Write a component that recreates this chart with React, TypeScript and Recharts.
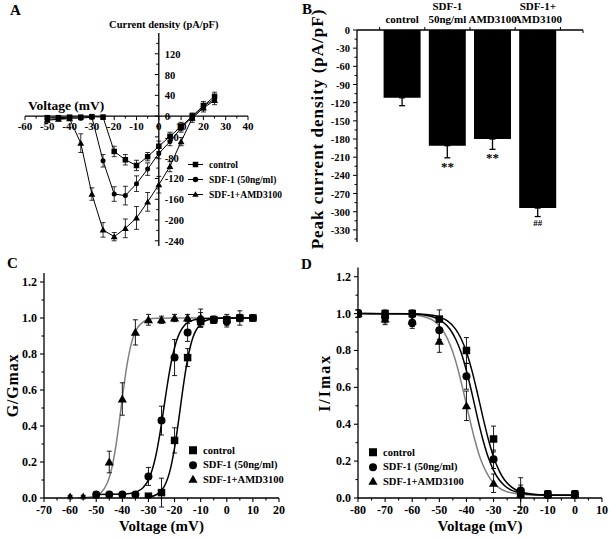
import React from "react";
import {
  ComposedChart,
  BarChart,
  Bar,
  Line,
  XAxis,
  YAxis,
  ErrorBar,
  ReferenceLine,
  ReferenceDot,
  Legend,
} from "recharts";

const FONT = "'Liberation Serif', 'Times New Roman', serif";

// ---------- Panel A: current density vs voltage ----------
const voltA = [-50, -45, -40, -35, -30, -25, -20, -15, -10, -5, 0, 5, 10, 15, 20, 25];
const ctrlA = [-3, -3, -2, -2, -1, -2, -68, -84, -95, -78, -58, -39, -20, 0, 20, 38];
const ctrlAErr = [3, 3, 3, 3, 3, 4, 10, 10, 10, 8, 10, 8, 8, 6, 8, 8];
const sdfA = [-6, -5, -4, -4, -2, -86, -150, -153, -130, -102, -72, -49, -23, -2, 19, 33];
const sdfAErr = [3, 3, 3, 3, 3, 12, 14, 18, 15, 12, 10, 8, 8, 6, 6, 6];
const amdA = [-8, -6, -5, -52, -150, -219, -232, -216, -196, -165, -132, -97, -49, -4, 16, 30];
const amdAErr = [3, 3, 3, 18, 12, 14, 8, 18, 22, 18, 16, 10, 8, 8, 8, 8];
const xTicksA = [-60, -55, -50, -45, -40, -35, -30, -25, -20, -15, -10, -5, 0, 5, 10, 15, 20, 25, 30, 35, 40];
const yTicksA = [-240, -220, -200, -180, -160, -140, -120, -100, -80, -60, -40, -20, 0, 20, 40, 60, 80, 100, 120, 140];

// ---------- Panel B: peak current density ----------
const catB = [["control"], ["SDF-1", "50ng/ml"], ["AMD3100"], ["SDF-1+", "AMD3100"]];
const posB = [1, 2, 3, 4];
const peakB = [-112, -191, -180, -294];
const peakBErr = [13, 20, 17, 14];
const sigB = ["", "**", "**", "##"];
const xTicksB = [0.5, 1, 1.5, 2, 2.5, 3, 3.5, 4, 4.5, 5];
const yTicksB = [0, -15, -30, -45, -60, -75, -90, -105, -120, -135, -150, -165, -180, -195, -210, -225, -240, -255, -270, -285, -300, -315, -330, -345];

// ---------- Panel C: activation G/Gmax ----------
const ctrlCV = [-30, -25, -20, -15, -10, -5, 0, 5, 10];
const ctrlC = [0.01, 0.03, 0.32, 0.78, 0.98, 0.99, 0.99, 1.0, 1.0];
const ctrlCErr = [0.01, 0.08, 0.07, 0.05, 0.03, 0.02, 0.03, 0.04, 0.01];
const sdfCV = [-50, -45, -40, -35, -30, -25, -20, -15, -10, -5, 0, 5, 10];
const sdfC = [0.02, 0.02, 0.02, 0.02, 0.12, 0.43, 0.78, 0.92, 0.99, 0.99, 0.98, 1.0, 1.0];
const sdfCErr = [0.01, 0.01, 0.01, 0.01, 0.05, 0.08, 0.1, 0.05, 0.04, 0.02, 0.03, 0.02, 0.01];
const amdCV = [-60, -55, -50, -45, -40, -35, -30, -25, -20, -15, -10];
const amdC = [0.005, 0.005, 0.01, 0.2, 0.55, 0.92, 0.99, 0.99, 1.0, 1.0, 1.0];
const amdCErr = [0.01, 0.01, 0.01, 0.06, 0.09, 0.07, 0.03, 0.02, 0.02, 0.02, 0.05];
// fitted curves
const fitCtrlCV = [-30, -27, -25, -24, -23, -22, -21, -20, -19, -18, -17, -16, -15, -14, -13, -12, -10, -8, -5, 0, 10];
const fitCtrlC = [0.005, 0.018, 0.042, 0.063, 0.094, 0.138, 0.199, 0.278, 0.373, 0.478, 0.586, 0.686, 0.772, 0.839, 0.89, 0.926, 0.967, 0.986, 0.996, 1.0, 1.0];
const fitSdfCV = [-50, -40, -36, -34, -32, -30, -29, -28, -27, -26, -25, -24, -23, -22, -21, -20, -19, -18, -16, -14, -12, -10, 0, 10];
const fitSdfC = [0.02, 0.022, 0.028, 0.038, 0.058, 0.101, 0.137, 0.185, 0.246, 0.324, 0.413, 0.51, 0.607, 0.696, 0.774, 0.835, 0.883, 0.919, 0.962, 0.982, 0.992, 0.997, 1.0, 1.0];
const fitAmdCV = [-57, -52, -50, -48, -46, -45, -44, -43, -42, -41, -40, -39, -38, -37, -36, -35, -34, -32, -30, -27, -10];
const fitAmdC = [0.0, 0.005, 0.013, 0.032, 0.076, 0.114, 0.169, 0.243, 0.336, 0.443, 0.557, 0.664, 0.757, 0.831, 0.886, 0.924, 0.95, 0.979, 0.992, 0.998, 1.0];
const xTicksC = [-70, -65, -60, -55, -50, -45, -40, -35, -30, -25, -20, -15, -10, -5, 0, 5, 10, 15, 20];

// ---------- Panel D: inactivation I/Imax ----------
const voltD = [-80, -70, -60, -50, -40, -30, -20, -10, 0];
const ctrlD = [1.0, 1.0, 1.0, 0.97, 0.8, 0.32, 0.03, 0.02, 0.02];
const ctrlDErr = [0.02, 0.02, 0.02, 0.05, 0.07, 0.07, 0.08, 0.02, 0.02];
const sdfD = [1.0, 0.98, 0.95, 0.91, 0.66, 0.21, 0.04, 0.02, 0.02];
const sdfDErr = [0.02, 0.03, 0.03, 0.05, 0.07, 0.05, 0.03, 0.02, 0.02];
const amdD = [1.0, 0.97, 0.96, 0.85, 0.5, 0.08, 0.02, 0.02, 0.02];
const amdDErr = [0.02, 0.03, 0.03, 0.06, 0.08, 0.05, 0.02, 0.02, 0.02];
const fitCtrlDV = [-80, -60, -55, -50, -47, -44, -42, -40, -38, -36, -34, -32, -30, -28, -26, -24, -22, -20, -16, -10, 0];
const fitCtrlD = [1.0, 0.999, 0.995, 0.981, 0.96, 0.916, 0.865, 0.792, 0.692, 0.572, 0.443, 0.323, 0.223, 0.15, 0.099, 0.067, 0.046, 0.034, 0.022, 0.016, 0.015];
const fitSdfDV = [-80, -62, -57, -52, -49, -46, -44, -42, -40, -38, -36, -34, -32, -30, -28, -26, -24, -22, -18, -12, 0];
const fitSdfD = [1.0, 0.999, 0.995, 0.98, 0.958, 0.914, 0.862, 0.79, 0.69, 0.57, 0.44, 0.32, 0.222, 0.15, 0.1, 0.068, 0.047, 0.035, 0.022, 0.016, 0.015];
const fitAmdDV = [-80, -65, -60, -55, -52, -49, -47, -45, -43, -41, -39, -37, -35, -33, -31, -29, -27, -25, -21, -15, 0];
const fitAmdD = [1.0, 0.999, 0.995, 0.98, 0.96, 0.915, 0.864, 0.79, 0.69, 0.57, 0.44, 0.32, 0.22, 0.15, 0.1, 0.067, 0.046, 0.034, 0.022, 0.016, 0.015];
const xTicksD = [-80, -75, -70, -65, -60, -55, -50, -45, -40, -35, -30, -25, -20, -15, -10, -5, 0, 5, 10];
const yTicksCD = [0, 0.1, 0.2, 0.3, 0.4, 0.5, 0.6, 0.7, 0.8, 0.9, 1.0, 1.1, 1.2];

const names = ["control", "SDF-1 (50ng/ml)", "SDF-1+AMD3100"];
const kinds = ["square", "circle", "triangle"];

const rows = (vs: number[], ys: number[], es?: number[]) =>
  vs.map((v, i) => ({ v, y: ys[i], e: es ? es[i] : 0 }));

const txt = (size: number) => ({ fontFamily: FONT, fontWeight: "bold" as const, fontSize: size, fill: "#000" });

const Marker = ({ cx, cy, kind, size }: any) => {
  if (cx == null || cy == null || isNaN(cx) || isNaN(cy)) return null;
  const h = size / 2;
  if (kind === "square") return <rect x={cx - h} y={cy - h} width={size} height={size} fill="#000" />;
  if (kind === "circle") return <circle cx={cx} cy={cy} r={h} fill="#000" />;
  const t = h * 1.15;
  return <polygon points={`${cx},${cy - t} ${cx - t},${cy + t * 0.75} ${cx + t},${cy + t * 0.75}`} fill="#000" />;
};

const LegendList = ({ size, rowH, font, lineW, gap }: any) => (
  <div style={{ fontFamily: FONT, fontWeight: "bold", fontSize: font, color: "#000" }}>
    {names.map((n, i) => (
      <div key={n} style={{ display: "flex", alignItems: "center", height: rowH, whiteSpace: "nowrap" }}>
        <svg width={lineW} height={rowH} style={{ display: "block" }}>
          {lineW > size + 2 && (
            <line x1={0} x2={lineW} y1={rowH / 2} y2={rowH / 2} stroke="#000" strokeWidth={1} />
          )}
          <Marker cx={lineW / 2} cy={rowH / 2} kind={kinds[i]} size={size} />
        </svg>
        <span style={{ marginLeft: gap }}>{n}</span>
      </div>
    ))}
  </div>
);

// ---------- Panel A ----------
function PanelA() {
  const series = [
    { data: rows(voltA, ctrlA, ctrlAErr), kind: "square", size: 5.5 },
    { data: rows(voltA, sdfA, sdfAErr), kind: "circle", size: 5 },
    { data: rows(voltA, amdA, amdAErr), kind: "triangle", size: 6 },
  ];
  return (
    <ComposedChart width={300} height={250} margin={{ top: 33, right: 52, bottom: 4, left: 25 }}>
      <XAxis type="number" dataKey="v" domain={[-60, 40]} hide allowDataOverflow />
      <YAxis type="number" domain={[-250, 160]} hide allowDataOverflow />
      <ReferenceLine y={0} stroke="#000" strokeWidth={1.3} />
      <ReferenceLine x={0} stroke="#000" strokeWidth={1.3} />
      {xTicksA.map((t) => (
        <ReferenceDot
          key={"xa" + t}
          x={t}
          y={0}
          r={0}
          ifOverflow="visible"
          shape={(p: any) => (
            <g>
              <line x1={p.cx} x2={p.cx} y1={p.cy} y2={p.cy + (t % 10 === 0 ? 4 : 2.5)} stroke="#000" strokeWidth={1} />
              {t % 10 === 0 && (
                <text x={p.cx} y={p.cy + 14} textAnchor="middle" {...txt(11)}>
                  {t}
                </text>
              )}
            </g>
          )}
        />
      ))}
      {yTicksA.map((t) => (
        <ReferenceDot
          key={"ya" + t}
          x={0}
          y={t}
          r={0}
          ifOverflow="visible"
          shape={(p: any) => (
            <g>
              <line x1={p.cx - (t % 40 === 0 ? 4 : 2.5)} x2={p.cx} y1={p.cy} y2={p.cy} stroke="#000" strokeWidth={1} />
              {t % 40 === 0 && (
                <text x={p.cx + 6} y={p.cy + 4} textAnchor="start" {...txt(10.5)}>
                  {t}
                </text>
              )}
            </g>
          )}
        />
      ))}
      <ReferenceDot
        x={0}
        y={160}
        r={0}
        ifOverflow="visible"
        shape={(p: any) => (
          <text x={p.cx + 5} y={p.cy - 5} textAnchor="middle" {...txt(10.5)}>
            Current density (pA/pF)
          </text>
        )}
      />
      <ReferenceDot
        x={-60}
        y={0}
        r={0}
        ifOverflow="visible"
        shape={(p: any) => (
          <text x={p.cx + 3} y={p.cy - 6} textAnchor="start" {...txt(13.5)}>
            Voltage (mV)
          </text>
        )}
      />
      {series.map((s, k) => (
        <Line
          key={"la" + k}
          data={s.data}
          dataKey="y"
          type="linear"
          stroke="#000"
          strokeWidth={1}
          isAnimationActive={false}
          dot={(p: any) => <Marker key={"da" + k + "-" + p.index} cx={p.cx} cy={p.cy} kind={s.kind} size={s.size} />}
          activeDot={false}
        >
          <ErrorBar dataKey="e" width={2.5} stroke="#000" strokeWidth={0.8} direction="y" />
        </Line>
      ))}
      <Legend
        layout="vertical"
        align="center"
        verticalAlign="middle"
        wrapperStyle={{ left: 188, top: 157 }}
        content={() => <LegendList size={5.5} rowH={15} font={9.5} lineW={15} gap={6} />}
      />
    </ComposedChart>
  );
}

// ---------- Panel B ----------
function PanelB() {
  const data = posB.map((p, i) => ({ pos: p, val: peakB[i], err: [peakBErr[i], 0] }));
  const TopTick = ({ x, y, payload }: any) => {
    const v = payload.value;
    if (Number.isInteger(v) && v >= 1 && v <= 4) {
      const lines = catB[v - 1];
      return (
        <g>
          {lines.map((ln, i) => (
            <text key={i} x={x} y={y - 7 - (lines.length - 1 - i) * 13} textAnchor="middle" {...txt(11)}>
              {ln}
            </text>
          ))}
        </g>
      );
    }
    return <line x1={x} x2={x} y1={y} y2={v === 5 ? y + 3 : y - 3} stroke="#000" strokeWidth={1} />;
  };
  const LeftTick = ({ x, y, payload }: any) => {
    const v = payload.value;
    const major = v % 30 === 0;
    return (
      <g>
        <line x1={x - (major ? 4 : 2.5)} x2={x} y1={y} y2={y} stroke="#000" strokeWidth={1} />
        {major && (
          <text x={x - 7} y={y + 4} textAnchor="end" {...txt(10.5)}>
            {v}
          </text>
        )}
      </g>
    );
  };
  return (
    <BarChart width={310} height={250} data={data} margin={{ top: 0, right: 27, bottom: 8, left: 0 }}>
      <XAxis
        type="number"
        dataKey="pos"
        orientation="top"
        domain={[0, 5]}
        ticks={xTicksB}
        interval={0}
        height={30}
        tickSize={0}
        tickMargin={0}
        tickLine={false}
        axisLine={{ stroke: "#000", strokeWidth: 1.3 }}
        tick={<TopTick />}
        allowDataOverflow
      />
      <YAxis
        type="number"
        domain={[-350, 0]}
        ticks={yTicksB}
        interval={0}
        width={57}
        tickSize={0}
        tickMargin={0}
        tickLine={false}
        axisLine={{ stroke: "#000", strokeWidth: 1.3 }}
        tick={<LeftTick />}
        allowDataOverflow
        label={() => {
          const cx = 17;
          const cy = 129;
          return (
            <text
              x={cx}
              y={cy}
              transform={`rotate(-90 ${cx} ${cy})`}
              textAnchor="middle"
              dominantBaseline="central"
              letterSpacing={1}
              {...txt(17)}
            >
              Peak current density (pA/pF)
            </text>
          );
        }}
      />
      <Bar dataKey="val" barSize={37} fill="#000" isAnimationActive={false}>
        <ErrorBar dataKey="err" width={3} stroke="#000" strokeWidth={1.3} direction="y" />
      </Bar>
      {posB.map((p, i) =>
        sigB[i] ? (
          <ReferenceDot
            key={"sig" + i}
            x={p}
            y={peakB[i] - peakBErr[i]}
            r={0}
            ifOverflow="visible"
            shape={(q: any) => (
              <text x={q.cx} y={q.cy + (sigB[i] === "##" ? 9 : 13)} textAnchor="middle" {...txt(sigB[i] === "##" ? 9 : 13)}>
                {sigB[i]}
              </text>
            )}
          />
        ) : null
      )}
    </BarChart>
  );
}

// ---------- shared for C & D ----------
const BottomTick = ({ x, y, payload }: any) => {
  const v = payload.value;
  const major = v % 10 === 0;
  return (
    <g>
      <line x1={x} x2={x} y1={y} y2={y + (major ? 4 : 2.5)} stroke="#000" strokeWidth={1.1} />
      {major && (
        <text x={x} y={y + 16} textAnchor="middle" {...txt(12)}>
          {v}
        </text>
      )}
    </g>
  );
};

const LeftTickCD = ({ x, y, payload }: any) => {
  const v = payload.value;
  const major = Math.round(v * 10) % 2 === 0;
  return (
    <g>
      <line x1={x - (major ? 4 : 2.5)} x2={x} y1={y} y2={y} stroke="#000" strokeWidth={1.1} />
      {major && (
        <text x={x - 7} y={y + 4} textAnchor="end" {...txt(12)}>
          {v.toFixed(1)}
        </text>
      )}
    </g>
  );
};

function SigmoidPanel({ width, margin, yWidth, xDomain, xTicks, yTitle, yTitleX, yTitleSpacing, points, fits, legendPos }: any) {
  return (
    <ComposedChart width={width} height={289} margin={margin}>
      <XAxis
        type="number"
        dataKey="v"
        domain={xDomain}
        ticks={xTicks}
        interval={0}
        height={41}
        tickSize={0}
        tickMargin={0}
        tickLine={false}
        axisLine={{ stroke: "#000", strokeWidth: 1.3 }}
        tick={<BottomTick />}
        allowDataOverflow
        label={(p: any) => {
          const vb = p.viewBox || {};
          return (
            <text x={vb.x + vb.width / 2} y={vb.y + 33} textAnchor="middle" {...txt(15)}>
              Voltage (mV)
            </text>
          );
        }}
      />
      <YAxis
        type="number"
        domain={[0, 1.25]}
        ticks={yTicksCD}
        interval={0}
        width={yWidth}
        tickSize={0}
        tickMargin={0}
        tickLine={false}
        axisLine={{ stroke: "#000", strokeWidth: 1.3 }}
        tick={<LeftTickCD />}
        allowDataOverflow
        label={(p: any) => {
          const vb = p.viewBox || {};
          const cy = vb.y + vb.height / 2;
          return (
            <text
              x={yTitleX}
              y={cy}
              transform={`rotate(-90 ${yTitleX} ${cy})`}
              textAnchor="middle"
              dominantBaseline="central"
              letterSpacing={yTitleSpacing}
              {...txt(16)}
            >
              {yTitle}
            </text>
          );
        }}
      />
      {fits.map((f: any, k: number) => (
        <Line
          key={"fit" + k}
          data={f.data}
          dataKey="y"
          type="monotone"
          stroke={f.color}
          strokeWidth={1.5}
          dot={false}
          activeDot={false}
          isAnimationActive={false}
        />
      ))}
      {points.map((s: any, k: number) => (
        <Line
          key={"pt" + k}
          data={s.data}
          dataKey="y"
          stroke="none"
          isAnimationActive={false}
          activeDot={false}
          dot={(p: any) => <Marker key={"d" + k + "-" + p.index} cx={p.cx} cy={p.cy} kind={s.kind} size={s.size} />}
        >
          <ErrorBar dataKey="e" width={2.5} stroke="#000" strokeWidth={0.9} direction="y" />
        </Line>
      ))}
      <Legend
        layout="vertical"
        align="center"
        verticalAlign="middle"
        wrapperStyle={{ left: legendPos[0], top: legendPos[1] }}
        content={() => <LegendList size={8} rowH={14.5} font={10.5} lineW={10} gap={5} />}
      />
    </ComposedChart>
  );
}

function PanelC() {
  return (
    <SigmoidPanel
      width={300}
      margin={{ top: 23, right: 21, bottom: 0, left: 0 }}
      yWidth={44}
      xDomain={[-70, 20]}
      xTicks={xTicksC}
      yTitle="G/Gmax"
      yTitleX={12}
      yTitleSpacing={0.8}
      legendPos={[188, 193]}
      fits={[
        { data: rows(fitAmdCV, fitAmdC), color: "#808080" },
        { data: rows(fitSdfCV, fitSdfC), color: "#000" },
        { data: rows(fitCtrlCV, fitCtrlC), color: "#000" },
      ]}
      points={[
        { data: rows(ctrlCV, ctrlC, ctrlCErr), kind: "square", size: 7.5 },
        { data: rows(sdfCV, sdfC, sdfCErr), kind: "circle", size: 8 },
        { data: rows(amdCV, amdC, amdCErr), kind: "triangle", size: 8 },
      ]}
    />
  );
}

function PanelD() {
  return (
    <SigmoidPanel
      width={310}
      margin={{ top: 17.5, right: 8, bottom: 0, left: 0 }}
      yWidth={58}
      xDomain={[-80, 10]}
      xTicks={xTicksD}
      yTitle="I/Imax"
      yTitleX={24}
      yTitleSpacing={2}
      legendPos={[68, 195]}
      fits={[
        { data: rows(fitAmdDV, fitAmdD), color: "#808080" },
        { data: rows(fitSdfDV, fitSdfD), color: "#000" },
        { data: rows(fitCtrlDV, fitCtrlD), color: "#000" },
      ]}
      points={[
        { data: rows(voltD, ctrlD, ctrlDErr), kind: "square", size: 7.5 },
        { data: rows(voltD, sdfD, sdfDErr), kind: "circle", size: 8 },
        { data: rows(voltD, amdD, amdDErr), kind: "triangle", size: 8 },
      ]}
    />
  );
}

const PanelLetter = ({ ch, left, top }: any) => (
  <div
    style={{
      position: "absolute",
      left,
      top,
      fontFamily: FONT,
      fontWeight: "bold",
      fontSize: 15,
      lineHeight: "15px",
      color: "#000",
    }}
  >
    {ch}
  </div>
);

export default function App() {
  return (
    <div style={{ position: "absolute", left: 0, top: 0, width: 610, height: 539, background: "#fff", overflow: "hidden" }}>
      <div style={{ position: "absolute", left: 0, top: 0 }}>
        <PanelA />
      </div>
      <div style={{ position: "absolute", left: 300, top: 0 }}>
        <PanelB />
      </div>
      <div style={{ position: "absolute", left: 0, top: 250 }}>
        <PanelC />
      </div>
      <div style={{ position: "absolute", left: 300, top: 250 }}>
        <PanelD />
      </div>
      <PanelLetter ch="A" left={10} top={3} />
      <PanelLetter ch="B" left={302} top={2} />
      <PanelLetter ch="C" left={7} top={256} />
      <PanelLetter ch="D" left={301} top={257} />
    </div>
  );
}
